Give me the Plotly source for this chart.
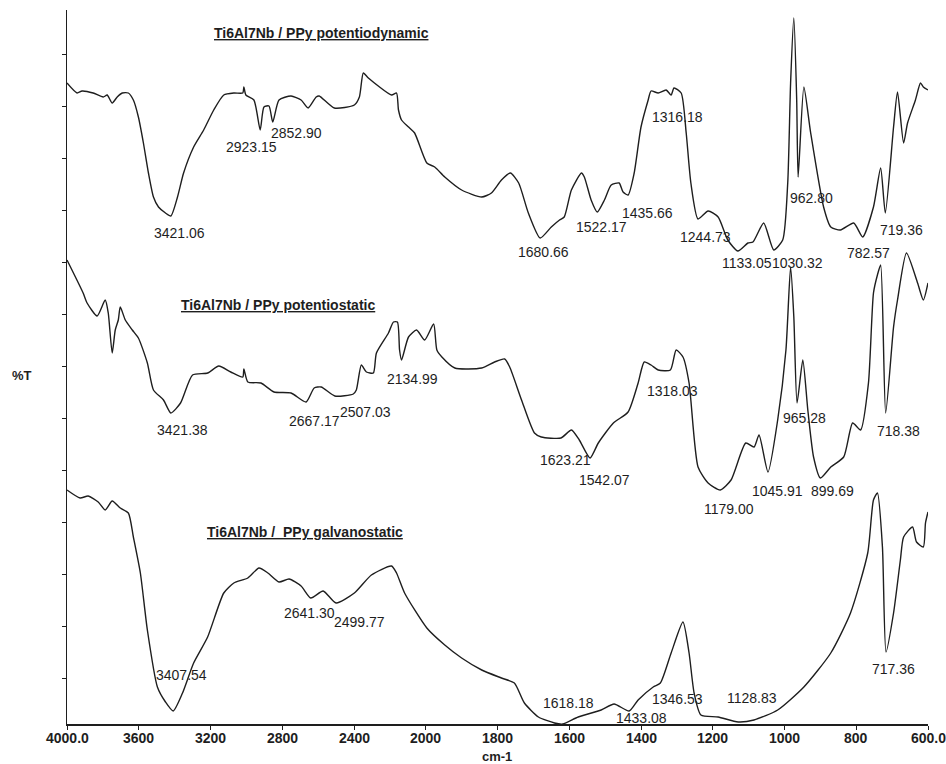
import plotly.graph_objects as go

# ---- data (wavenumber cm-1, %T in arbitrary offset units) ----
dyn_wn = [4000, 3944, 3916, 3854, 3798, 3776, 3748, 3720, 3692, 3658, 3630, 3602, 3574, 3546, 3518, 3490,
          3451, 3421, 3384, 3350, 3294, 3238, 3182, 3126, 3070, 3020, 3014, 3003, 2958, 2923, 2902, 2874,
          2853, 2818, 2751, 2695, 2656, 2611, 2594, 2510, 2398, 2370, 2348, 2320, 2191, 2163, 2152, 2135,
          2096, 2062,
          1997, 1975, 1947, 1900, 1844, 1817, 1789, 1764, 1741, 1714, 1681, 1650, 1627, 1614, 1594, 1566,
          1558, 1539, 1522, 1502, 1483, 1461, 1450, 1436, 1419, 1400, 1380, 1372, 1352, 1330, 1316, 1308,
          1288, 1274, 1261, 1241, 1213, 1185, 1158, 1130, 1102, 1088, 1058, 1030, 1005, 991, 983, 974,
          966, 962, 946, 927, 891, 871, 844, 807, 782, 752, 732, 719, 696, 685, 668, 657, 635, 621, 613, 600]
dyn_t = [64.1, 63.1, 63.3, 63.1, 62.7, 62.9, 62.1, 62.7, 63.1, 63.1, 62.4, 60.7, 58.1, 55.1, 52.7, 51.7,
         51.1, 50.8, 52.7, 55.1, 57.7, 59.4, 61.4, 62.9, 63.1, 63.1, 63.7, 62.9, 62.4, 59.4, 61.7, 61.8,
         60.2, 62.4, 62.8, 62.4, 61.6, 62.7, 62.8, 61.6, 61.9, 62.7, 65.1, 64.6, 62.9, 63.1, 61.4, 60.4,
         59.7, 59.1,
         56.1, 55.7, 54.7, 53.4, 52.7, 53.1, 54.4, 55.1, 54.1, 51.1, 48.6, 49.7, 50.4, 50.7, 53.4, 55.1,
         54.7, 52.4, 51.2, 52.4, 53.9, 54.1, 53.2, 52.9, 55.1, 59.7, 62.4, 63.3, 63.1, 63.4, 62.9, 63.6,
         63.1, 59.1, 54.1, 50.5, 51.3, 50.7, 48.4, 47.3, 48.1, 48.2, 50.1, 47.4, 48.4, 54.1, 64.1, 70.6,
         62.4, 54.7, 63.7, 59.1, 51.7, 49.7, 49.4, 50.1, 48.7, 51.7, 55.6, 51.1, 59.7, 63.2, 58.1, 60.1,
         62.4, 64.1, 63.7, 63.4]

stat_wn = [4000, 3910, 3888, 3832, 3787, 3770, 3748, 3731, 3714, 3703, 3675, 3636, 3602, 3552, 3518, 3462,
           3421, 3367, 3300, 3216, 3154, 3087, 3020, 3014, 2992, 2919, 2846, 2751, 2667, 2622, 2583, 2507,
           2404, 2387, 2359, 2331, 2292, 2275, 2208, 2180, 2158, 2146, 2135, 2096, 2051, 2006, 1978, 1969,
           1955, 1919, 1844, 1808, 1780, 1766, 1733, 1697, 1678, 1623, 1594, 1572, 1542, 1519, 1477, 1436,
           1408, 1391, 1372, 1352, 1318, 1302, 1283, 1266, 1241, 1213, 1179, 1149, 1108, 1085, 1071, 1046,
           1019, 996, 983, 974, 965, 949, 935, 919, 900, 871, 835, 810, 788, 766, 752, 741, 732, 718, 696,
           685, 660, 629, 613, 600]
stat_t = [46.4, 43.1, 42.1, 40.8, 42.4, 41.1, 37.1, 39.4, 40.4, 41.7, 40.4, 39.4, 38.6, 36.1, 33.4, 32.4,
          31.1, 32.1, 34.9, 35.1, 35.8, 35.2, 34.7, 35.5, 34.2, 34.1, 33.2, 33.1, 32.2, 33.6, 33.7, 32.8,
          33.0, 33.4, 35.9, 35.2, 35.1, 37.1, 39.1, 40.2, 40.2, 37.4, 36.4, 38.7, 39.4, 38.4, 40.0, 37.4,
          36.7, 35.6, 35.6, 36.2, 36.5, 35.7, 32.4, 29.1, 28.7, 28.6, 29.4, 28.4, 26.6, 28.1, 30.1, 31.2,
          34.1, 36.2, 35.9, 35.4, 35.4, 37.4, 36.7, 34.1, 25.7, 24.1, 23.4, 24.4, 28.1, 27.7, 28.9, 25.2,
          30.4, 37.4, 45.7, 40.7, 32.1, 36.4, 31.4, 26.7, 24.6, 25.7, 26.7, 30.1, 29.4, 34.1, 43.1, 44.9,
          45.9, 31.1, 39.7, 42.4, 47.1, 44.1, 42.4, 44.1]

galv_wn = [4000, 3927, 3882, 3826, 3787, 3748, 3703, 3658, 3630, 3591, 3552, 3496, 3451, 3408, 3356, 3294,
           3216, 3126, 3070, 2992, 2930, 2880, 2818, 2762, 2695, 2641, 2572, 2500, 2398, 2303, 2191, 2163,
           2118, 1997, 1947, 1900, 1844, 1789, 1753, 1725, 1686, 1641, 1618, 1575, 1511, 1475, 1433, 1408,
           1366, 1346, 1316, 1283, 1266, 1252, 1233, 1185, 1129, 1085, 1019, 946, 871, 816, 768, 752, 741,
           727, 717, 696, 677, 668, 643, 632, 613, 607, 600]
galv_t = [23.4, 22.6, 22.8, 22.2, 21.4, 22.3, 21.6, 21.1, 18.7, 15.1, 9.4, 3.7, 2.2, 1.3, 3.1, 6.1,
          8.7, 13.1, 14.1, 14.6, 15.6, 15.1, 14.2, 14.5, 13.8, 12.6, 13.3, 12.1, 13.1, 14.9, 15.8, 15.1,
          13.1, 9.6, 7.9, 6.6, 5.4, 4.6, 4.1, 2.1, 0.7, 0.1, 0.0, 0.7, 1.4, 2.0, 1.3, 2.4,
          3.7, 4.1, 7.1, 10.2, 7.1, 3.1, 0.9, 0.7, 0.2, 0.4, 1.4, 3.7, 7.1, 11.1, 17.1, 22.4, 23.1,
          17.7, 7.2, 11.1, 16.4, 18.7, 19.7, 18.2, 17.7, 20.1, 21.2]

# peak labels: text, label wavenumber, label %T
dyn_labels = [("3421.06", 3373, 49.1), ("2923.15", 2970, 57.7), ("2852.90", 2718, 59.1),
              ("1680.66", 1672, 47.2), ("1522.17", 1511, 49.7), ("1435.66", 1383, 51.1),
              ("1316.18", 1299, 60.7), ("1244.73", 1219, 48.7), ("1133.05", 1105, 46.1),
              ("1030.32", 963, 46.1), ("962.80", 924, 52.6), ("782.57", 766, 47.1), ("719.36", 674, 49.4)]
stat_labels = [("3421.38", 3356, 29.4), ("2667.17", 2622, 30.3), ("2507.03", 2337, 31.2),
               ("2134.99", 2074, 34.5), ("1623.21", 1611, 26.4), ("1542.07", 1502, 24.4),
               ("1318.03", 1313, 33.3), ("1179.00", 1155, 21.5), ("1045.91", 1019, 23.3),
               ("965.28", 944, 30.6), ("899.69", 866, 23.3), ("718.38", 682, 29.3)]
galv_labels = [("3407.54", 3362, 4.9), ("2641.30", 2650, 11.1), ("2499.77", 2370, 10.2),
               ("1618.18", 1602, 2.1), ("1433.08", 1400, 0.6), ("1346.53", 1297, 2.5),
               ("1128.83", 1091, 2.6), ("717.36", 696, 5.5)]
titles = [("Ti6Al7Nb / PPy potentiodynamic", 2583, 69.1),
          ("Ti6Al7Nb / PPy potentiostatic", 2824, 41.9),
          ("Ti6Al7Nb /  PPy galvanostatic", 2673, 19.2)]

tick_wn = [4000, 3600, 3200, 2800, 2400, 2000, 1800, 1600, 1400, 1200, 1000, 800, 600]
tick_text = ["4000.0", "3600", "3200", "2800", "2400", "2000", "1800", "1600", "1400", "1200", "1000", "800", "600.0"]


def disp(wn):
    # spectrometer abscissa: scale halves above 2000 cm-1
    return wn if wn <= 2000 else 2000 + (wn - 2000) / 2.0


INK = "#1e1e1e"
FONT = "Liberation Sans, Arial"
W, H = 946, 764
ml, mr, mt, mb = 67, 18, 10, 40
pw, ph = W - ml - mr, H - mt - mb

fig = go.Figure()
for wn, t in [(dyn_wn, dyn_t), (stat_wn, stat_t), (galv_wn, galv_t)]:
    fig.add_trace(go.Scatter(x=[disp(w) for w in wn], y=t, mode="lines",
                             line=dict(color=INK, width=1.4, shape="spline", smoothing=0.6),
                             showlegend=False, hoverinfo="skip"))

ann = []
for group in (dyn_labels, stat_labels, galv_labels):
    for txt, w, yv in group:
        ann.append(dict(x=disp(w), y=yv, text=txt, showarrow=False, xanchor="center", yanchor="middle",
                        font=dict(family=FONT, size=14, color=INK)))
for txt, w, yv in titles:
    ann.append(dict(x=disp(w), y=yv, text="<b><u>" + txt + "</u></b>", showarrow=False,
                    xanchor="center", yanchor="middle",
                    font=dict(family=FONT, size=14, color=INK)))
# x tick labels, drawn close under the axis
for w, s in zip(tick_wn, tick_text):
    ann.append(dict(x=disp(w), xref="x", y=(H - mb - 738) / ph, yref="paper", text="<b>" + s + "</b>",
                    showarrow=False, xanchor="center", yanchor="middle",
                    font=dict(family=FONT, size=14, color=INK)))
ann.append(dict(x=(22 - ml) / pw, y=(H - mb - 376) / ph, xref="paper", yref="paper",
                text="<b>%T</b>", showarrow=False, xanchor="center", yanchor="middle",
                font=dict(family=FONT, size=13, color=INK)))
ann.append(dict(x=(497 - ml) / pw, y=(H - mb - 756) / ph, xref="paper", yref="paper",
                text="<b>cm-1</b>", showarrow=False, xanchor="center", yanchor="middle",
                font=dict(family=FONT, size=13, color=INK)))

fig.update_layout(
    width=W, height=H, margin=dict(l=ml, r=mr, t=mt, b=mb),
    paper_bgcolor="white", plot_bgcolor="white",
    annotations=ann,
    xaxis=dict(range=[disp(4000), disp(600)], tickmode="array",
               tickvals=[disp(w) for w in tick_wn], showticklabels=False,
               showgrid=False, zeroline=False, showline=True, linecolor=INK, linewidth=1.5,
               ticks="outside", ticklen=4, tickcolor=INK),
    yaxis=dict(range=[0, 71.4], tick0=4.6, dtick=5.2, showticklabels=False,
               showgrid=False, zeroline=False, showline=True, linecolor=INK, linewidth=1.2,
               ticks="outside", ticklen=4, tickcolor=INK),
)

fig.write_html("out.html")
